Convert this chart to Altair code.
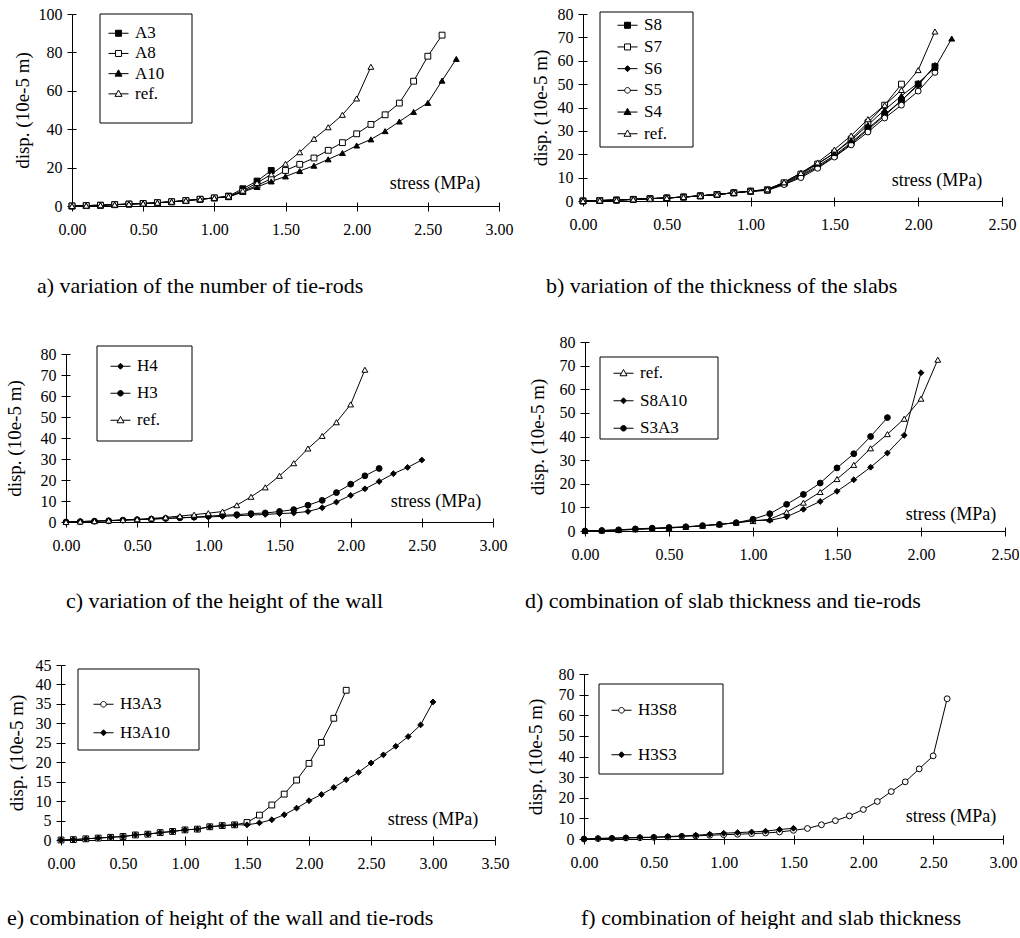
import altair as alt
import pandas as pd

FONT = "Liberation Serif"

# stress values (MPa) at which displacements were computed
stress = [0.0, 0.1, 0.2, 0.3, 0.4, 0.5, 0.6, 0.7, 0.8, 0.9, 1.0,
          1.1, 1.2, 1.3, 1.4, 1.5, 1.6, 1.7, 1.8, 1.9, 2.0,
          2.1, 2.2, 2.3, 2.4, 2.5, 2.6, 2.7, 2.8, 2.9, 3.0]

# reference case (disp. 10e-5 m)
ref = [0, 0.2, 0.4, 0.7, 1.0, 1.3, 1.7, 2.2, 2.8, 3.5, 4.2, 5.0, 8.0, 12.0,
       16.5, 22.0, 28.0, 35.0, 41.0, 47.5, 56.0, 72.5]

# a) number of tie-rods
A3 = [0, 0.2, 0.4, 0.7, 1.0, 1.3, 1.7, 2.2, 2.8, 3.5, 4.2, 5.2, 9.0, 13.0, 18.5]
A8 = [0, 0.2, 0.4, 0.7, 1.0, 1.3, 1.7, 2.2, 2.8, 3.5, 4.2, 4.8, 7.6, 10.7, 14.2,
      18.5, 21.7, 25.0, 29.0, 33.0, 37.6, 42.5, 47.5, 53.6, 65.0, 78.0, 89.0]
A10 = [0, 0.2, 0.4, 0.7, 1.0, 1.3, 1.7, 2.2, 2.8, 3.5, 4.2, 4.7, 7.3, 9.9, 12.8,
       15.4, 18.2, 21.0, 24.3, 27.6, 31.5, 34.7, 39.0, 44.0, 49.0, 53.7, 65.3, 76.6]

# b) thickness of the slabs
S8 = [0, 0.2, 0.4, 0.7, 1.0, 1.3, 1.7, 2.2, 2.8, 3.5, 4.2, 4.8, 7.5, 11.0, 15.0,
      19.5, 25.0, 31.0, 37.0, 43.0, 50.0, 57.5]
S7 = [0, 0.2, 0.4, 0.7, 1.0, 1.3, 1.7, 2.2, 2.8, 3.5, 4.2, 4.6, 7.8, 11.5, 15.8,
      20.5, 26.5, 33.5, 41.0, 50.0]
S6 = [0, 0.2, 0.4, 0.7, 1.0, 1.3, 1.7, 2.2, 2.8, 3.5, 4.2, 4.7, 7.2, 10.5, 14.5,
      19.0, 24.5, 30.5, 36.5, 43.0, 49.5, 58.0]
S5 = [0, 0.2, 0.4, 0.7, 1.0, 1.3, 1.7, 2.2, 2.8, 3.5, 4.2, 4.5, 7.0, 10.0, 14.0,
      18.8, 24.0, 29.5, 35.5, 41.0, 47.0, 55.0]
S4 = [0, 0.2, 0.4, 0.7, 1.0, 1.3, 1.7, 2.2, 2.8, 3.5, 4.2, 4.9, 8.0, 12.0, 16.0,
      20.5, 26.0, 32.5, 39.0, 45.0, 50.5, 57.0, 69.5]

# c) height of the wall
H4 = [0, 0.2, 0.4, 0.6, 0.9, 1.1, 1.4, 1.7, 2.0, 2.2, 2.4, 2.7, 3.0, 3.3, 3.6,
      4.0, 4.3, 5.0, 6.8, 9.5, 12.7, 15.8, 19.3, 23.0, 26.0, 29.5]
H3 = [0, 0.2, 0.4, 0.6, 0.9, 1.1, 1.4, 1.7, 2.0, 2.3, 2.8, 3.2, 3.5, 4.0, 4.3,
      5.0, 5.9, 8.0, 10.3, 14.0, 18.0, 22.0, 25.5]

# d) slab thickness and tie-rods
S8A10 = [0, 0.2, 0.4, 0.7, 1.0, 1.3, 1.7, 2.2, 2.8, 3.5, 4.5, 4.5, 6.0, 9.2, 12.5,
         16.8, 21.7, 27.0, 33.0, 40.5, 67.0]
S3A3 = [0, 0.2, 0.5, 0.9, 1.2, 1.5, 1.8, 2.3, 2.8, 3.5, 5.0, 7.3, 11.3, 15.5, 20.3,
        26.7, 32.7, 40.0, 48.0]

# e) height of the wall and tie-rods
H3A3 = [0, 0.1, 0.3, 0.5, 0.7, 0.9, 1.3, 1.5, 1.9, 2.2, 2.6, 2.8, 3.4, 3.7, 3.9,
        4.5, 6.4, 9.0, 11.8, 15.4, 19.7, 25.1, 31.3, 38.5]
H3A10 = [0, 0.1, 0.3, 0.5, 0.7, 0.9, 1.3, 1.5, 1.9, 2.2, 2.6, 2.8, 3.4, 3.7, 3.9,
         3.9, 4.4, 5.2, 6.5, 8.2, 10.1, 11.7, 13.5, 15.5, 17.4, 19.8, 21.9, 24.1,
         26.6, 29.6, 35.5]

# f) height and slab thickness
H3S8 = [0, 0.2, 0.3, 0.5, 0.6, 0.8, 1.0, 1.3, 1.5, 1.8, 2.1, 2.3, 2.6, 2.9, 3.4,
        4.2, 5.1, 6.9, 8.9, 11.2, 14.3, 18.2, 23.0, 27.7, 34.0, 40.3, 68.0]
H3S3 = [0, 0.3, 0.5, 0.6, 0.8, 0.9, 1.2, 1.5, 1.8, 2.3, 2.8, 3.1, 3.4, 3.8, 4.6, 5.2]

captions = [
    "a) variation of the number of tie-rods",
    "b) variation of the thickness of the slabs",
    "c) variation of the height of the wall",
    "d) combination of slab thickness and tie-rods",
    "e) combination of height of the wall and tie-rods",
    "f) combination of height and slab thickness",
]
y_title = "disp. (10e-5 m)"
x_note = ["stress (MPa)"]

# legend glyphs: short line with a marker in the middle
LG = {
    "square": "M-1,0H-0.3M0.3,0H1M-0.3,-0.3H0.3V0.3H-0.3Z",
    "triangle-up": "M-1,0H-0.21M0.21,0H1M0,-0.38L0.35,0.25H-0.35Z",
    "diamond": "M-1,0H-0.3M0.3,0H1M0,-0.3L0.3,0L0,0.3L-0.3,0Z",
    "circle": "M-1,0H-0.28M0.28,0H1M0.28,0A0.28,0.28,0,1,1,-0.28,0A0.28,0.28,0,1,1,0.28,0Z",
}
ENTRY_H = 18.5

# column / row frames (view origin and size, px)
COLS = {"L": (61, 438), "R": (582, 420)}
ROWS = {1: (15, 192), 2: (343, 189), 3: (664, 175)}


def panel(series, marks, xmax, xticks, ymax, ystep, box, col, row, caption,
          cap_x, cap_off, leg, note_xy, yext, ytpad):
    names = [s[0] for s in series]
    rows = []
    for n, vals in series:
        for i, v in enumerate(vals):
            rows.append({"x": stress[i], "y": v, "s": n})
    df = pd.DataFrame(rows)
    plot_shapes = [m[0] for m in marks]
    leg_shapes = [LG[m[1]] for m in marks]
    fills = [m[2] for m in marks]

    X0, W = COLS[col]
    Y0, H = ROWS[row]
    L, R, T, B = box
    xr = [L - X0, R - X0]
    yr = [B - Y0, T - Y0]
    nt = ymax // ystep

    xscale = alt.Scale(domain=[0, xmax], nice=False, zero=False, range=xr)
    yscale = alt.Scale(domain=[0, ymax], nice=False, range=yr)
    xenc = alt.X("x:Q", scale=xscale,
                 axis=alt.Axis(values=xticks, format=".2f", title=None, tickSize=5,
                               labelPadding=10, labelFlush=False, labelOverlap=False,
                               grid=False, offset=-(H - yr[0])))
    yenc = alt.Y("y:Q", scale=yscale,
                 axis=alt.Axis(tickCount=nt, format="d", title=y_title, tickSize=5,
                               labelPadding=5, grid=False, minExtent=yext,
                               maxExtent=yext, titlePadding=ytpad, labelOverlap=False,
                               offset=-xr[0]))
    # inner half of the crossing ticks
    xin = alt.X("x:Q", axis=alt.Axis(orient="top", values=xticks, labels=False,
                                     domain=False, title=None, tickSize=4, grid=False,
                                     offset=-yr[0]))
    yin = alt.Y("y:Q", axis=alt.Axis(orient="right", tickCount=nt, labels=False,
                                     domain=False, title=None, tickSize=4, grid=False,
                                     offset=-(W - xr[0]), minExtent=0))
    base = alt.Chart(df)
    lines = base.mark_line(color="black", strokeWidth=1).encode(
        x=xenc, y=yenc, detail="s:N", order="x:Q")
    pts = base.mark_point(filled=True, stroke="black", strokeWidth=1, size=34,
                          opacity=1).encode(
        x=xin, y=yin,
        shape=alt.Shape("s:N", scale=alt.Scale(domain=names, range=plot_shapes),
                        legend=None),
        fill=alt.Fill("s:N", scale=alt.Scale(domain=names, range=fills), legend=None))

    (bx0, by0, bx1, by1), sym_cx, first_cy, step = leg
    frame = alt.Chart(pd.DataFrame({"k": [0]})).mark_rect(
        fill="white", stroke="black", strokeWidth=1).encode(
        x=alt.value(bx0 - X0), x2=alt.value(bx1 - X0),
        y=alt.value(by0 - Y0), y2=alt.value(by1 - Y0))
    lg = alt.Legend(orient="none", legendX=sym_cx - 10 - X0,
                    legendY=first_cy - ENTRY_H / 2 - Y0, title=None, padding=0,
                    rowPadding=step - ENTRY_H, symbolSize=400, symbolStrokeWidth=1,
                    symbolOpacity=1, labelFont=FONT, labelFontSize=17,
                    labelColor="black", labelOffset=6)
    keys = base.transform_filter("false").mark_point(
        filled=True, stroke="black", strokeWidth=1, opacity=1).encode(
        x=alt.X("x:Q", axis=None), y=alt.Y("y:Q", axis=None),
        shape=alt.Shape("s:N", scale=alt.Scale(domain=names, range=leg_shapes),
                        legend=lg),
        fill=alt.Fill("s:N", scale=alt.Scale(domain=names, range=fills), legend=lg),
        stroke=alt.Stroke("s:N", scale=alt.Scale(domain=names,
                                                 range=["black"] * len(names)),
                          legend=lg))
    note = alt.Chart(pd.DataFrame({"t": x_note})).mark_text(
        font=FONT, fontSize=18, color="black", align="center",
        baseline="middle").encode(x=alt.value(note_xy[0] - X0),
                                  y=alt.value(note_xy[1] - Y0), text="t:N")
    return alt.layer(lines, pts, frame, keys, note).resolve_scale(
        shape="independent", fill="independent", stroke="independent"
    ).resolve_axis(x="independent", y="independent").properties(
        width=W, height=H,
        title=alt.TitleParams(caption, orient="bottom", anchor="start", frame="group",
                              dx=cap_x - X0, offset=cap_off, font=FONT, fontSize=22,
                              fontWeight="normal", color="black"))


FS, OS = ("square", "square", "black"), ("square", "square", "white")
FT, OT = ("triangle-up", "triangle-up", "black"), ("triangle-up", "triangle-up", "white")
FD = ("diamond", "diamond", "black")
FC, OC = ("circle", "circle", "black"), ("circle", "circle", "white")

x30 = [0, 0.5, 1.0, 1.5, 2.0, 2.5, 3.0]
x25 = [0, 0.5, 1.0, 1.5, 2.0, 2.5]
x35 = [0, 0.5, 1.0, 1.5, 2.0, 2.5, 3.0, 3.5]

pa = panel([("A3", A3), ("A8", A8), ("A10", A10), ("ref.", ref)],
           [FS, OS, FT, OT], 3.0, x30, 100, 20, (72, 499, 15, 207), "L", 1,
           captions[0], 37, 39, ((100, 15, 192, 124), 118, 33, 19.7), (435, 185), 40, 0)
pb = panel([("S8", S8), ("S7", S7), ("S6", S6), ("S5", S5), ("S4", S4), ("ref.", ref)],
           [FS, OS, FD, OC, FT, OT], 2.5, x25, 80, 10, (582, 1001, 15, 202), "R", 1,
           captions[1], 545, 44, ((599, 13, 692, 148), 626, 25, 21.2), (936, 182), 30, 3)
pc = panel([("H4", H4), ("H3", H3), ("ref.", ref)],
           [FD, FC, OT], 3.0, x30, 80, 10, (66, 493, 355, 523), "L", 2,
           captions[2], 66, 38, ((97, 347, 192, 442), 120, 366, 26.5), (436, 503), 34, 8)
pd_ = panel([("ref.", ref), ("S8A10", S8A10), ("S3A3", S3A3)],
            [OT, FD, FC], 2.5, x25, 80, 10, (582, 1002, 343, 532), "R", 2,
            captions[3], 522, 29, ((597, 358, 715, 440), 620, 373, 27), (948, 516), 29, 9)
pe = panel([("H3A3", H3A3), ("H3A10", H3A10)],
           [("square", "circle", "white"), FD], 3.5, x35, 45, 5, (61, 495, 664, 839),
           "L", 3, captions[4], 7, 37, ((78, 668, 199, 749), 103, 702, 28), (433, 819),
           28, 7)
pf = panel([("H3S8", H3S8), ("H3S3", H3S3)],
           [OC, FD], 3.0, x30, 80, 10, (583, 1002, 673, 838), "R", 3,
           captions[5], 580, 38, ((598, 683, 722, 773), 620, 708, 44), (950, 816), 29, 10)

RES = dict(shape="independent", fill="independent", stroke="independent")
row1 = alt.hconcat(pa, pb, spacing=18).resolve_scale(**RES)
row2 = alt.hconcat(pc, pd_, spacing=18).resolve_scale(**RES)
row3 = alt.hconcat(pe, pf, spacing=17).resolve_scale(**RES)
top = alt.vconcat(row1, row2, spacing=37).resolve_scale(**RES)
chart = alt.vconcat(top, row3, spacing=45).resolve_scale(**RES).properties(
    padding={"left": 5, "top": 6, "right": 0, "bottom": 0},
    background="white",
).configure_view(stroke=None).configure_axis(
    domainColor="black", tickColor="black", labelColor="black", titleColor="black",
    labelFont=FONT, labelFontSize=16, titleFont=FONT, titleFontSize=19,
    titleFontWeight="normal", domainWidth=1, tickWidth=1, labelOverlap=False,
)

chart.save("out.html", embed_options={"renderer": "svg", "actions": False})
